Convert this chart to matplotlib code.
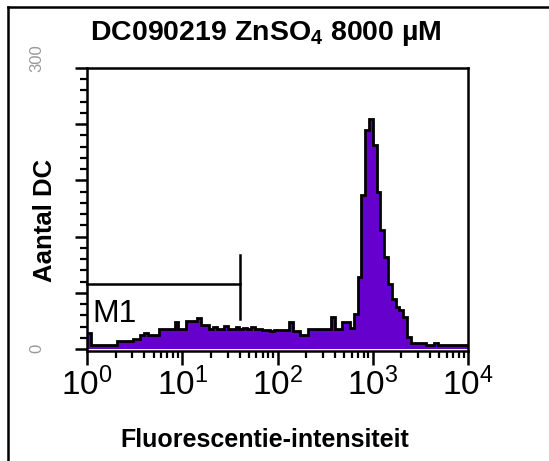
import numpy as np
import matplotlib
matplotlib.use("Agg")
import matplotlib.pyplot as plt
from matplotlib.lines import Line2D

plt.rcParams['font.family'] = ['Liberation Sans', 'DejaVu Sans']
plt.rcParams['mathtext.fontset'] = 'custom'
plt.rcParams['mathtext.rm'] = 'Liberation Sans'
plt.rcParams['mathtext.bf'] = 'Liberation Sans:bold'
plt.rcParams['mathtext.it'] = 'Liberation Sans:italic'

# Histogram: 100 log-spaced channels from 10^0 to 10^4, counts per channel
counts = [17, 4, 4, 4, 4, 4, 4, 4, 9, 9, 9, 9, 11, 11,
          15, 17, 15, 15, 15, 22, 21, 21, 21, 29, 22, 22, 30, 30, 30, 33,
          26, 26, 22, 24, 22, 22, 25, 22, 22, 24, 22, 23, 22, 24, 22, 22,
          20, 20, 19, 20, 20, 20, 20, 29, 19, 19, 15, 15, 21, 21, 22, 21,
          21, 22, 34, 22, 22, 29, 29, 23, 38, 77, 164, 234, 246, 218, 168, 127,
          98, 70, 54, 45, 42, 34, 13, 7, 7, 7, 7, 4, 4, 7, 4, 4,
          4, 4, 4, 4, 4, 4]
bin_edges_log = np.linspace(0, 4, len(counts) + 1)

title_text = r'DC090219 ZnSO$_\mathbf{4}$ 8000 µM'
xlabel_text = 'Fluorescentie-intensiteit'
ylabel_text = 'Aantal DC'
xtick_vals = [1, 10, 100, 1000, 10000]
xtick_labels = [r'$10^{0}$', r'$10^{1}$', r'$10^{2}$', r'$10^{3}$', r'$10^{4}$']
ytick_labels = ['0', '300']
marker_label = 'M1'
marker_range = [1.0, 40.0]
marker_level = 70

fig = plt.figure(figsize=(5.49, 4.61), dpi=100)
ax = fig.add_axes([87/549, 1 - 351/461, (468-87)/549, (351-68)/461])

edges = 10 ** bin_edges_log
vals = np.array(counts, dtype=float)
xs = np.repeat(edges, 2)[1:-1]
ys = np.repeat(vals, 2)
ax.fill_between(xs, 0, ys, color='#6600cc', linewidth=0)
ax.plot(xs, ys, color='black', linewidth=2.0, solid_joinstyle='miter')

ax.set_xscale('log')
ax.set_xlim(1, 10000)
ax.set_ylim(-2, 300)

for s in ax.spines.values():
    s.set_linewidth(1.8)

ax.set_xticks(xtick_vals)
ax.set_xticklabels(xtick_labels, fontsize=24)
ax.tick_params(axis='x', which='major', length=10, width=1.8, direction='out', pad=2)
ax.tick_params(axis='x', which='minor', length=5, width=1.6, direction='out')

ax.set_yticks(np.arange(0, 301, 60))
ax.set_yticks(np.arange(0, 301, 12), minor=True)
ax.set_yticklabels([])
ax.tick_params(axis='y', which='major', length=9, width=1.8, direction='out')
ax.tick_params(axis='y', which='minor', length=5, width=1.6, direction='out')

# Faint y tick labels (rotated)
fig.text(37/549, 1 - 348/461, ytick_labels[0], rotation=90, fontsize=12,
         color='#9a9a9a', ha='center', va='center')
fig.text(37/549, 1 - 58/461, ytick_labels[1], rotation=90, fontsize=12,
         color='#9a9a9a', ha='center', va='center')

# Marker M1
ax.plot(marker_range, [marker_level, marker_level], color='black', lw=1.8, clip_on=False)
ax.plot([marker_range[1], marker_range[1]], [marker_level - 38, marker_level + 30],
        color='black', lw=1.8)
ax.text(1.13, 37, marker_label, fontsize=23, ha='left', va='center')

fig.text(266/549, 1 - 33/461, title_text, fontsize=20.5, fontweight='bold',
         ha='center', va='center')
fig.text(265/549, 1 - 440/461, xlabel_text, fontsize=18, fontweight='bold',
         ha='center', va='center')
fig.text(45/549, 1 - 220/461, ylabel_text, fontsize=18.5, fontweight='bold',
         rotation=90, ha='center', va='center')

# Outer frame (top and left)
fig.add_artist(Line2D([7.5/549, 7.5/549], [0, 1 - 7.5/461], color='black', lw=1.8,
                      transform=fig.transFigure))
fig.add_artist(Line2D([7.5/549, 1], [1 - 7.5/461, 1 - 7.5/461], color='black', lw=1.8,
                      transform=fig.transFigure))

fig.savefig('out.png', dpi=100)
